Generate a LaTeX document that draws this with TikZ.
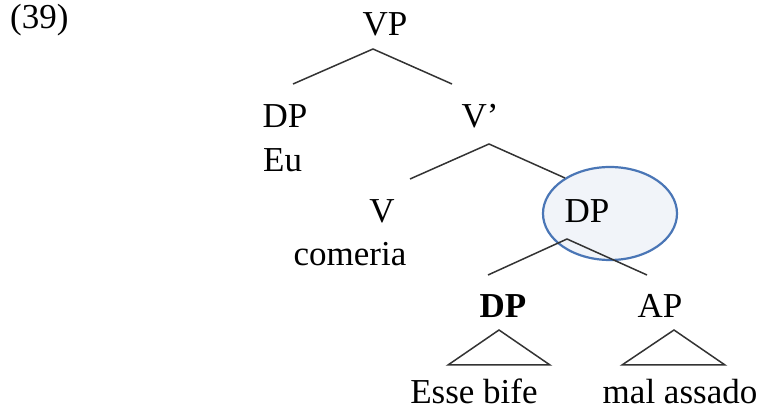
\documentclass[tikz,border=0pt]{standalone}
\usepackage{fontspec}
\setmainfont{Liberation Serif}
\usetikzlibrary{positioning}
\definecolor{ringblue}{HTML}{4A76B6}
\definecolor{ringfill}{HTML}{F1F4F9}

\begin{document}
\begin{tikzpicture}[x=1pt, y=-1pt,
    every node/.style={font=\fontsize{35}{42}\selectfont, inner sep=0pt, anchor=base},
    branch/.style={line width=1.5pt, black!80}]
  \useasboundingbox (0,0) rectangle (764,414);

  \node[anchor=base west] (ex) at (10,29) {(39)};

  % labels
  \node (vp) at (385,36) {VP};
  \node (dpa) at (285,128) {DP};
  \node[anchor=base west] (eu) at (263,172) {Eu};
  \node (vbar) at (480,128) {V’};
  \node (v) at (382,223) {V};
  \node (comeria) at (350,266) {comeria};

  % circled DP
  \draw[ringblue, fill=ringfill, line width=2.2pt] (610,213.5) ellipse (67 and 46.5);
  \node (dpb) at (587,223) {DP};

  \node (dpc) at (503,318) {\bfseries DP};
  \node (ap) at (660,318) {AP};
  \node (bife) at (474,403) {Esse bife};
  \node (assado) at (680,403) {mal assado};

  % branch points
  \coordinate (vp-top) at (373,49);
  \coordinate (vp-l) at (293,84);
  \coordinate (vp-r) at (452,84);
  \coordinate (vbar-top) at (489,144);
  \coordinate (vbar-l) at (410,179);
  \coordinate (vbar-r) at (565,178);
  \coordinate (dpb-top) at (567,239);
  \coordinate (dpb-l) at (488,275);
  \coordinate (dpb-r) at (647,275);

  \draw[branch] (vp-l) -- (vp-top) -- (vp-r);
  \draw[branch] (vbar-l) -- (vbar-top) -- (vbar-r);
  \draw[branch] (dpb-l) -- (dpb-top) -- (dpb-r);

  % triangles
  \coordinate (tri1) at (499,330);
  \coordinate (tri2) at (674,330);
  \draw[branch] (tri1) -- (448,365) -- (550,365) -- cycle;
  \draw[branch] (tri2) -- (622,365) -- (725,365) -- cycle;
\end{tikzpicture}
\end{document}
